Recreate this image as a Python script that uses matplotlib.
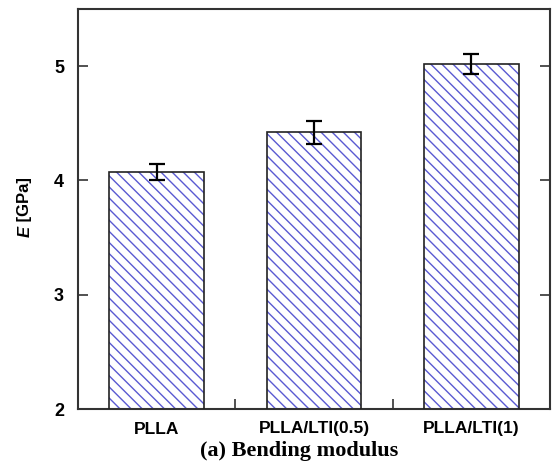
"""
Bending modulus bar chart
"""
import matplotlib
matplotlib.use('Agg')
import matplotlib.pyplot as plt

# ###
# 1.Data
# ###
SAMPLES   = ['PLLA', 'PLLA/LTI(0.5)', 'PLLA/LTI(1)']
MODULUS   = [4.07, 4.42, 5.02]   # E [GPa]
ERROR     = [0.07, 0.10, 0.085]
Y_TICKS   = [2, 3, 4, 5]

# ###
# 2.Plot settings
# ###
HATCH_COLOR = '#5a5ad2'
SPINE_COLOR = '#333333'
plt.rcParams['hatch.linewidth'] = 1.0

fig = plt.figure(figsize=(5.53, 4.68), dpi=100, facecolor='w')
ax = fig.add_axes([78 / 553, 59 / 468, (550 - 78) / 553, (409 - 9) / 468])

x = list(range(len(SAMPLES)))
# hatch in blue, outline in black
ax.bar(x, MODULUS, width=0.6, bottom=0, color='white', edgecolor=HATCH_COLOR,
       hatch='\\\\\\', linewidth=0, zorder=2)
ax.bar(x, MODULUS, width=0.6, fill=False, edgecolor='#222222', linewidth=1.2, zorder=3)
ax.errorbar(x, MODULUS, yerr=ERROR, fmt='none', ecolor='black', elinewidth=1.6,
            capsize=6, capthick=1.6, zorder=4)

ax.set_xlim(-0.5, 2.5)
ax.set_ylim(2, 5.5)
ax.set_yticks(Y_TICKS)
ax.set_yticklabels([str(t) for t in Y_TICKS], fontsize=13, fontweight='bold',
                   family='Liberation Sans')
ax.set_xticks(x)
ax.set_xticklabels(SAMPLES, fontsize=12.5, fontweight='bold', family='Liberation Sans')
ax.set_xticks([0.5, 1.5], minor=True)
ax.tick_params(axis='x', which='major', length=0, pad=9)
ax.tick_params(axis='x', which='minor', direction='in', length=7, width=1.2,
               color=SPINE_COLOR, bottom=True, top=False)
ax.tick_params(axis='y', which='major', direction='in', length=7, width=1.2,
               color=SPINE_COLOR, left=True, right=True, pad=10)
for s in ax.spines.values():
    s.set_linewidth(1.5)
    s.set_color(SPINE_COLOR)

# y label: italic E, upright [GPa]
fig.text(25 / 553, 1 - 226 / 468, 'E', rotation=90, ha='center', va='top',
         fontsize=12, fontweight='bold', style='italic', family='Liberation Sans')
fig.text(25 / 553, 1 - 226 / 468, ' [GPa]', rotation=90, ha='center', va='bottom',
         fontsize=12, fontweight='bold', family='Liberation Sans')

fig.text(299 / 553, 1 - 451 / 468, '(a) Bending modulus', ha='center', va='center',
         fontsize=16, fontweight='bold', family='Liberation Serif')

plt.savefig('out.png', dpi=100, facecolor='w')
plt.close(fig)
